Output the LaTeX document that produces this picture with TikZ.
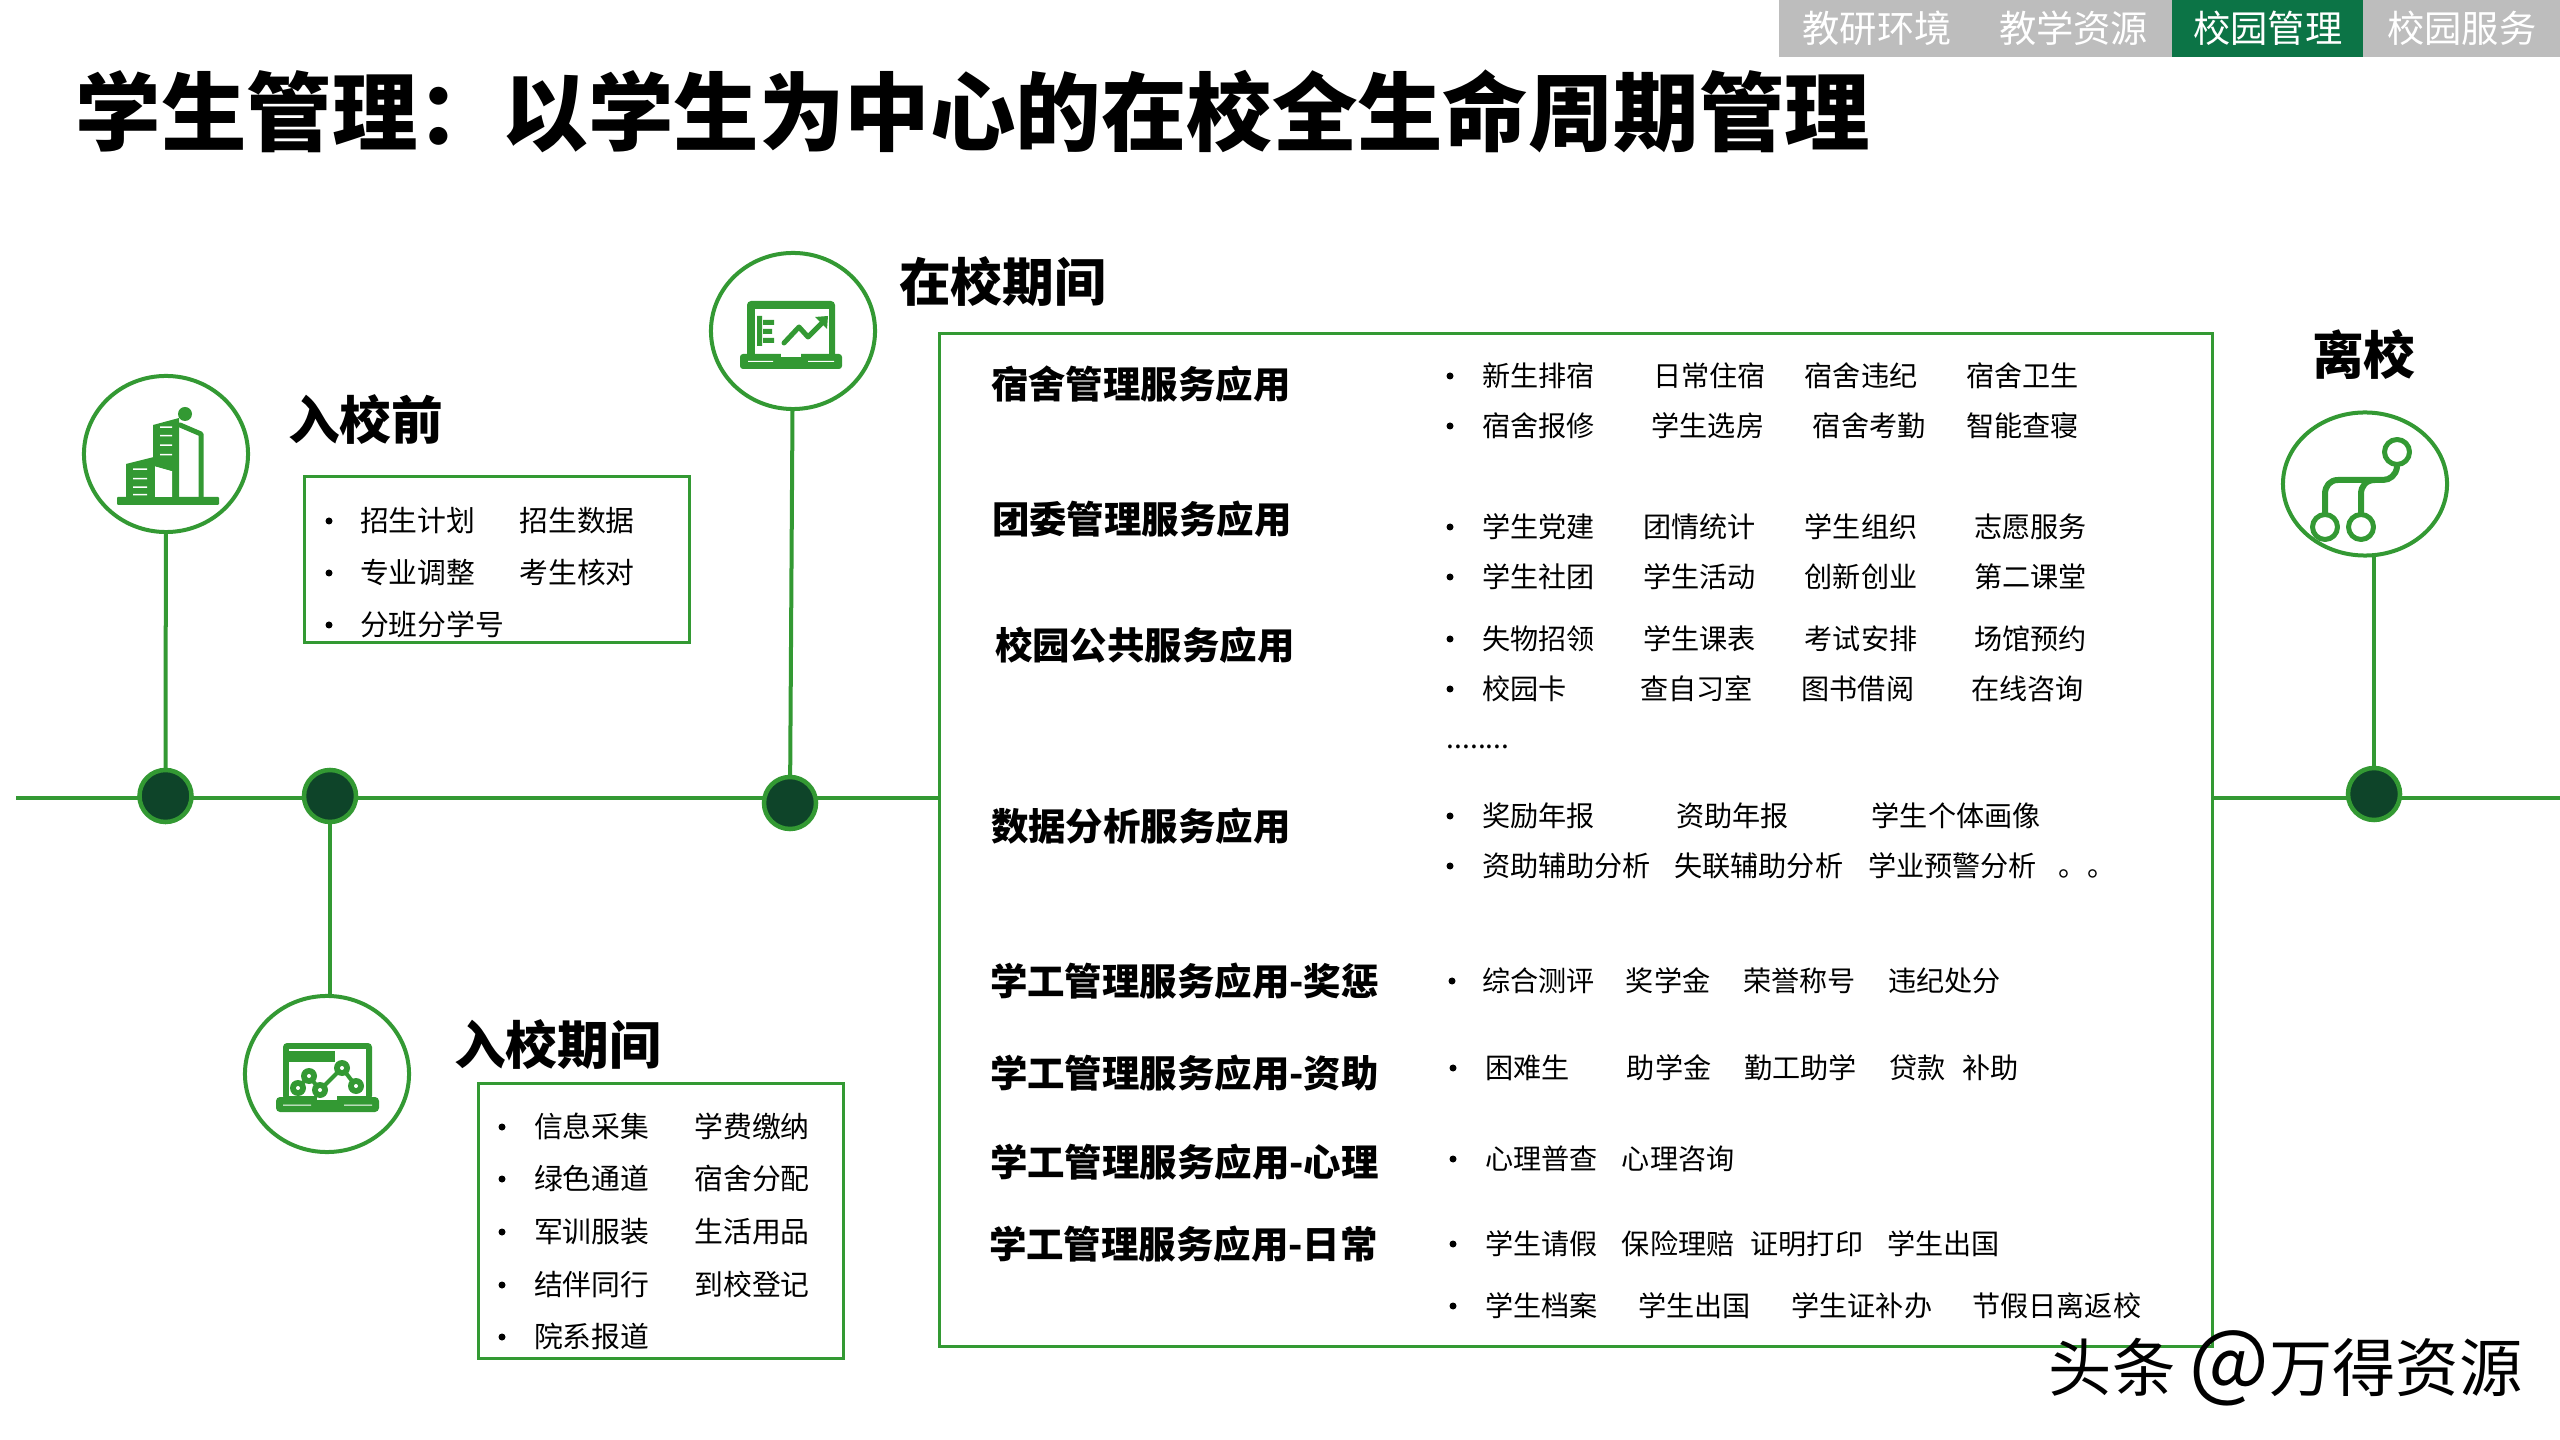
\documentclass[tikz,border=0pt]{standalone}
\usepackage{fontspec}
\setmainfont{Noto Sans CJK SC}
\usepackage{xcolor}
\usetikzlibrary{shapes.geometric, positioning, backgrounds}
\definecolor{leaf}{HTML}{339933}
\definecolor{pine}{HTML}{0E4429}
\definecolor{tabgreen}{HTML}{0C7446}
\definecolor{tabgray}{HTML}{BDBDBD}

\begin{document}
\begin{tikzpicture}[
    x=0.01cm, y=-0.01cm,
    mainbox/.style={rectangle, draw=leaf, fill=white, line width=0.03cm, inner sep=0, outer sep=0},
    circ/.style={ellipse, draw=leaf, fill=white, line width=0.04cm, inner sep=0, outer sep=0, minimum width=1.64cm, minimum height=1.56cm},
    dot/.style={circle, draw=leaf, fill=pine, line width=0.045cm, inner sep=0, outer sep=0, minimum size=0.52cm},
    link/.style={draw=leaf, line width=0.04cm},
    tabbox/.style={rectangle, fill=tabgray, text=white, inner sep=0, outer sep=0, minimum height=0.57cm, font=\fontsize{10.6pt}{10.6pt}\selectfont},
    bul/.style={circle, fill=black, inner sep=0, outer sep=0, minimum size=0.07cm},
    item/.style={inner sep=0, outer sep=0, text height=0.248cm, text depth=0.034cm, font=\fontsize{8pt}{8pt}\selectfont},
    itemb/.style={item, font=\fontsize{8.2pt}{8.2pt}\selectfont},
    heading/.style={anchor=west, inner sep=0, outer sep=0, font=\fontsize{10.65pt}{10.65pt}\selectfont\bfseries},
    stage/.style={anchor=west, inner sep=0, outer sep=0, font=\fontsize{14.7pt}{14.7pt}\selectfont\bfseries},
    iconline/.style={draw=leaf, line cap=round, line join=round, fill=none}
]
\useasboundingbox (0,0) rectangle (2560,1440);

\node (tabA) [tabbox, minimum width=1.96cm] at (1877,28.5) {教研环境};
\node (tabB) [tabbox, minimum width=1.97cm, right=0cm of tabA] {教学资源};
\node (tabC) [tabbox, minimum width=1.91cm, fill=tabgreen, right=0cm of tabB] {校园管理};
\node (tabD) [tabbox, minimum width=1.97cm, right=0cm of tabC] {校园服务};

\node (title) [anchor=west, inner sep=0, font=\fontsize{24.3pt}{24.3pt}\selectfont\bfseries] at (75,111) {学生管理：以学生为中心的在校全生命周期管理};

\coordinate (lineL) at (16,798);
\coordinate (lineR) at (2560,798);

\node (bigbox) [mainbox, minimum width=12.72cm, minimum height=10.12cm] at (1576,840) {};
\node (prebox) [mainbox, minimum width=3.84cm, minimum height=1.65cm] at (497,559.5) {};
\node (enrolbox) [mainbox, minimum width=3.64cm, minimum height=2.74cm] at (661,1221) {};

\node (circpre) [circ] at (166,454) {};
\node (circschool) [circ] at (793,331) {};
\node (circenrol) [circ] at (327,1074) {};
\node (circleave) [circ, minimum height=1.43cm] at (2365,484) {};

\node (dotpre) [dot] at (165.5,796) {};
\node (dotenrol) [dot] at (330,796) {};
\node (dotschool) [dot] at (790,803) {};
\node (dotleave) [dot] at (2374,794) {};

\begin{scope}[on background layer]
\fill [white] (0,0) rectangle (2560,1440);
\draw [link] (lineL) -- (bigbox.west |- lineL);
\draw [link] (bigbox.east |- lineL) -- (lineR);
\draw [link] (circpre) -- (dotpre);
\draw [link] (dotenrol) -- (dotenrol |- circenrol);
\draw [link] (circschool) -- (dotschool);
\draw [link] (dotleave |- circleave) -- (dotleave);
\end{scope}

\node (lblpre) [stage] at (288,420) {入校前};
\node (lblenrol) [stage] at (454,1045) {入校期间};
\node (lblschool) [stage] at (899,282) {在校期间};
\node (lblleave) [stage] at (2312,355) {离校};

\node (preBa) [bul] at (329,521) {};
\node (preA) [itemb, right=0.275cm of preBa] {招生计划};
\node (preB) [itemb, right=0.44cm of preA] {招生数据};
\node (preBb) [bul] at (329,573) {};
\node (preC) [itemb, right=0.275cm of preBb] {专业调整};
\node (preD) [itemb, right=0.44cm of preC] {考生核对};
\node (preBc) [bul] at (329,625) {};
\node (preE) [itemb, right=0.275cm of preBc] {分班分学号};

\node (enrBa) [bul] at (502,1127) {};
\node (enrA) [itemb, right=0.285cm of enrBa] {信息采集};
\node (enrB) [itemb, right=0.45cm of enrA] {学费缴纳};
\node (enrBb) [bul] at (502,1179) {};
\node (enrC) [itemb, right=0.285cm of enrBb] {绿色通道};
\node (enrD) [itemb, right=0.45cm of enrC] {宿舍分配};
\node (enrBc) [bul] at (502,1232) {};
\node (enrE) [itemb, right=0.285cm of enrBc] {军训服装};
\node (enrF) [itemb, right=0.45cm of enrE] {生活用品};
\node (enrBd) [bul] at (502,1285) {};
\node (enrG) [itemb, right=0.285cm of enrBd] {结伴同行};
\node (enrH) [itemb, right=0.45cm of enrG] {到校登记};
\node (enrBe) [bul] at (502,1337) {};
\node (enrI) [itemb, right=0.285cm of enrBe] {院系报道};

\node (hdorm) [heading] at (991,384) {宿舍管理服务应用};
\node (hleague) [heading] at (992,519) {团委管理服务应用};
\node (hpublic) [heading] at (995,645) {校园公共服务应用};
\node (hdata) [heading] at (991,826) {数据分析服务应用};
\node (hmerit) [heading] at (990,981) {学工管理服务应用-奖惩};
\node (haid) [heading] at (990,1073) {学工管理服务应用-资助};
\node (hmind) [heading] at (990,1162) {学工管理服务应用-心理};
\node (hdaily) [heading] at (989,1244) {学工管理服务应用-日常};

\node (dormBa) [bul] at (1450,376) {};
\node (dormA) [item, right=0.285cm of dormBa] {新生排宿};
\node (dormB) [item, right=0.586cm of dormA] {日常住宿};
\node (dormC) [item, right=0.39cm of dormB] {宿舍违纪};
\node (dormD) [item, right=0.488cm of dormC] {宿舍卫生};
\node (dormBb) [bul] at (1450,426) {};
\node (dormE) [item, right=0.285cm of dormBb] {宿舍报修};
\node (dormF) [item, right=0.57cm of dormE] {学生选房};
\node (dormG) [item, right=0.488cm of dormF] {宿舍考勤};
\node (dormH) [item, right=0.407cm of dormG] {智能查寝};

\node (leagueBa) [bul] at (1450,527) {};
\node (leagueA) [item, right=0.285cm of leagueBa] {学生党建};
\node (leagueB) [item, right=0.488cm of leagueA] {团情统计};
\node (leagueC) [item, right=0.488cm of leagueB] {学生组织};
\node (leagueD) [item, right=0.57cm of leagueC] {志愿服务};
\node (leagueBb) [bul] at (1450,577) {};
\node (leagueE) [item, right=0.285cm of leagueBb] {学生社团};
\node (leagueF) [item, right=0.488cm of leagueE] {学生活动};
\node (leagueG) [item, right=0.488cm of leagueF] {创新创业};
\node (leagueH) [item, right=0.57cm of leagueG] {第二课堂};

\node (publicBa) [bul] at (1450,639) {};
\node (publicA) [item, right=0.285cm of publicBa] {失物招领};
\node (publicB) [item, right=0.488cm of publicA] {学生课表};
\node (publicC) [item, right=0.488cm of publicB] {考试安排};
\node (publicD) [item, right=0.57cm of publicC] {场馆预约};
\node (publicBb) [bul] at (1450,689) {};
\node (publicE) [item, right=0.285cm of publicBb] {校园卡};
\node (publicF) [item, right=0.738cm of publicE] {查自习室};
\node (publicG) [item, right=0.488cm of publicF] {图书借阅};
\node (publicH) [item, right=0.57cm of publicG] {在线咨询};
\node (publicI) [anchor=west, inner sep=0, font=\fontsize{8pt}{8pt}\selectfont] at (1446,747) {........};

\node (dataBa) [bul] at (1450,816) {};
\node (dataA) [item, right=0.285cm of dataBa] {奖励年报};
\node (dataB) [item, right=0.815cm of dataA] {资助年报};
\node (dataC) [item, right=0.831cm of dataB] {学生个体画像};
\node (dataBb) [bul] at (1450,866) {};
\node (dataD) [item, right=0.285cm of dataBb] {资助辅助分析};
\node (dataE) [item, right=0.235cm of dataD] {失联辅助分析};
\node (dataF) [item, right=0.251cm of dataE] {学业预警分析};
\node (dataG) [item, right=0.218cm of dataF] {。。};

\node (meritBa) [bul] at (1452,981) {};
\node (meritA) [item, right=0.27cm of meritBa] {综合测评};
\node (meritB) [item, right=0.309cm of meritA] {奖学金};
\node (meritC) [item, right=0.33cm of meritB] {荣誉称号};
\node (meritD) [item, right=0.325cm of meritC] {违纪处分};

\node (aidBa) [bul] at (1453,1068) {};
\node (aidA) [item, right=0.285cm of aidBa] {困难生};
\node (aidB) [item, right=0.574cm of aidA] {助学金};
\node (aidC) [item, right=0.33cm of aidB] {勤工助学};
\node (aidD) [item, right=0.325cm of aidC] {贷款};
\node (aidE) [item, right=0.171cm of aidD] {补助};

\node (mindBa) [bul] at (1453,1159) {};
\node (mindA) [item, right=0.285cm of mindBa] {心理普查};
\node (mindB) [item, right=0.243cm of mindA] {心理咨询};

\node (dailyBa) [bul] at (1453,1244) {};
\node (dailyA) [item, right=0.285cm of dailyBa] {学生请假};
\node (dailyB) [item, right=0.243cm of dailyA] {保险理赔};
\node (dailyC) [item, right=0.162cm of dailyB] {证明打印};
\node (dailyD) [item, right=0.243cm of dailyC] {学生出国};
\node (dailyBb) [bul] at (1453,1306) {};
\node (dailyE) [item, right=0.285cm of dailyBb] {学生档案};
\node (dailyF) [item, right=0.407cm of dailyE] {学生出国};
\node (dailyG) [item, right=0.407cm of dailyF] {学生证补办};
\node (dailyH) [item, right=0.402cm of dailyG] {节假日离返校};

\node (stamp) [anchor=west, inner sep=0, font=\fontsize{18pt}{18pt}\selectfont] at (2048,1368) {头条 {\fontsize{24pt}{24pt}\selectfont @}万得资源};

\fill[leaf, rounded corners=0.01cm] (117,497) rectangle (219,505);
\fill[leaf] (153,425) -- (179,418) -- (179,497) -- (153,497) -- cycle;
\fill[white] (155,466) -- (172,471) -- (172,497) -- (155,497) -- cycle;
\fill[white] (160,426.5) rectangle (172,428) (160,435) rectangle (172,436.5) (160,444.5) rectangle (172,446) (160,454) rectangle (172,455.5);
\draw[iconline, line width=0.05cm] (180,425) -- (201,434) -- (201,497);
\fill[leaf] (185,414) circle (7);
\fill[leaf] (126,464) -- (154,457) -- (172,463) -- (172,471) -- (154,466) -- (154,497) -- (126,497) -- cycle;
\fill[white] (133,468.5) rectangle (147,470) (133,478) rectangle (147,479.5) (133,486.5) rectangle (147,488) (133,494) rectangle (147,495.5);

\fill[leaf, rounded corners=0.04cm] (747,301) rectangle (835,358);
\fill[white] (755,309) rectangle (829,354);
\fill[leaf, rounded corners=0.03cm] (740,354) rectangle (842,369);
\fill[white] (781,353) rectangle (801,357);
\fill[white] (748,361) rectangle (773,362) (808,361) rectangle (834,362);
\draw[iconline, line width=0.05cm] (784,343) -- (799,327) -- (808,337) -- (824,321);
\fill[leaf] (815,317) -- (828,316) -- (827,329) -- cycle;
\fill[leaf] (757,316) rectangle (762,346) (763,320) rectangle (774,325) (763,329) rectangle (772,334) (763,338) rectangle (774,343);

\fill[leaf, rounded corners=0.04cm] (283,1043) rectangle (372,1100);
\fill[white] (289,1049) rectangle (366,1096);
\fill[leaf] (289,1051) rectangle (335,1062);
\fill[leaf, rounded corners=0.04cm] (276,1097) rectangle (379,1112);
\fill[white] (317,1096) rectangle (337,1100);
\fill[white] (283,1104.5) rectangle (311,1105.5) (344,1104.5) rectangle (372,1105.5);
\draw[iconline, line width=0.04cm] (298,1088) -- (309,1076) -- (320,1090) -- (342,1068) -- (356,1086);
\foreach \px/\py in {298/1088, 309/1076, 320/1090, 342/1068, 356/1086} {
  \fill[leaf] (\px,\py) circle (8);
  \fill[white] (\px,\py) circle (2);
}

\draw[iconline, line width=0.05cm] (2397,452) circle (12.5) (2325,527) circle (12.5) (2361,527) circle (12.5);
\draw[iconline, line width=0.06cm] (2397,467) .. controls (2396,475) and (2390,480) .. (2383,480) -- (2338,480) .. controls (2330,480) and (2325,486) .. (2325,494) -- (2325,513);
\draw[iconline, line width=0.06cm] (2361,513) -- (2361,494) .. controls (2361,486) and (2366,480) .. (2375,480);
\end{tikzpicture}
\end{document}
